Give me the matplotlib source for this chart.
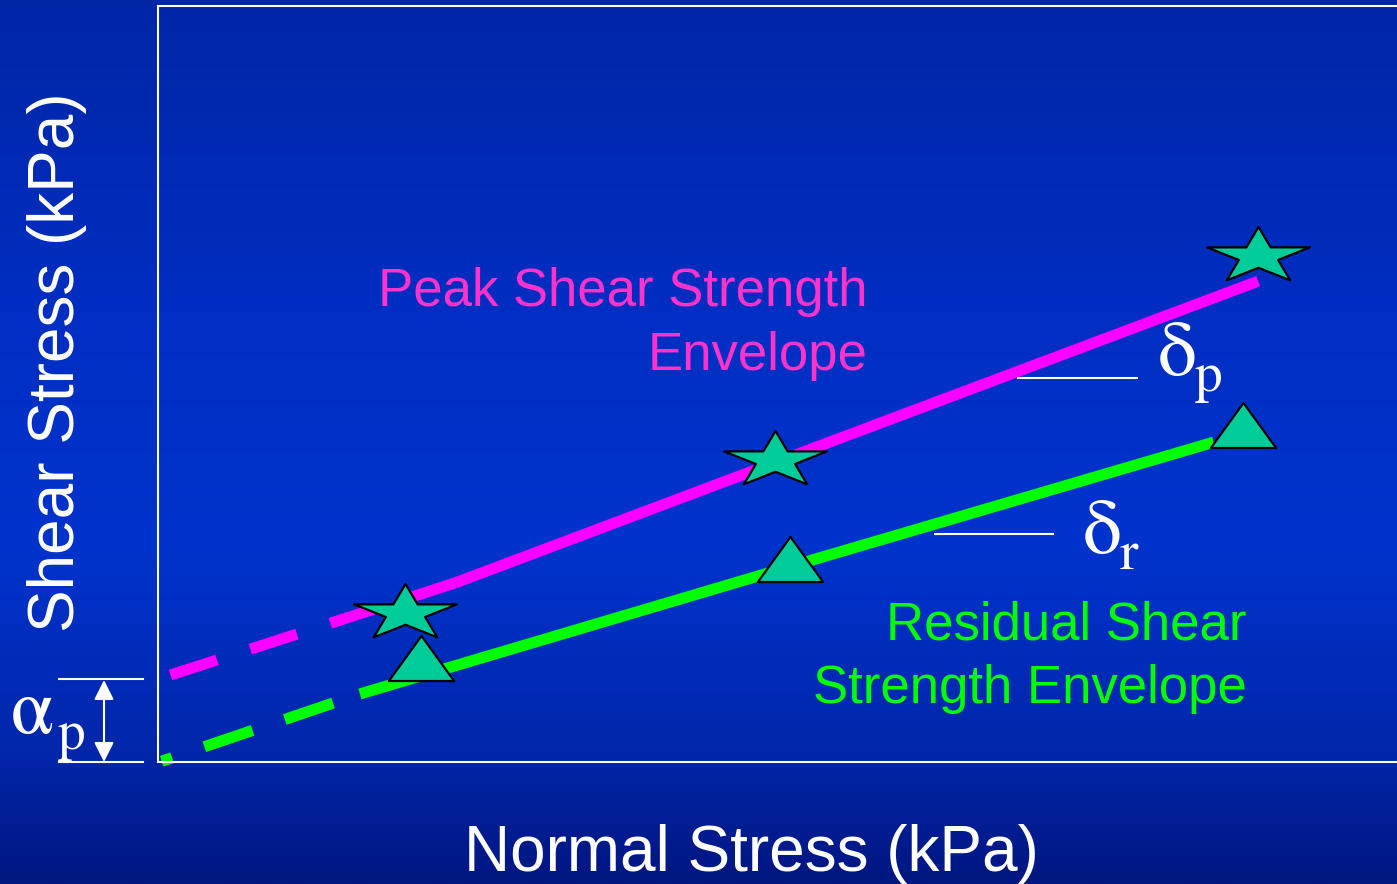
import numpy as np
import matplotlib
matplotlib.use("Agg")
import matplotlib.pyplot as plt
from matplotlib.path import Path
from matplotlib.lines import Line2D

plt.rcParams['font.family'] = ['Liberation Sans', 'DejaVu Sans']
plt.rcParams['lines.scale_dashes'] = False

W, H = 1397, 884

# Datos (unidades arbitrarias, sin escala en los ejes)
peak_dash_x = [1.0, 24.0]
peak_dash_y = [11.5, 23.7]
peak_solid_x = [24.0, 49.8, 88.8]
peak_solid_y = [23.7, 39.6, 63.6]

resid_dash_x = [0.3, 16.3]
resid_dash_y = [0.1, 9.0]
resid_solid_x = [16.3, 50.9, 85.2]
resid_solid_y = [9.0, 25.8, 42.3]

peak_pts_x = [19.9, 49.8, 88.8]
peak_pts_y = [19.7, 40.0, 66.9]
resid_pts_x = [21.2, 51.0, 87.6]
resid_pts_y = [13.7, 26.8, 44.6]

MAGENTA = '#FF00FF'
GREEN = '#00FF00'
MARKER_FILL = '#00CC99'

# Marcadores achatados (estrella y triángulo)
ang = np.pi / 2 + np.arange(10) * np.pi / 5
rad = np.where(np.arange(10) % 2 == 0, 1.0, 0.382)
star_verts = np.column_stack([rad * np.cos(ang), rad * np.sin(ang) * 0.546])
star_verts = np.vstack([star_verts, star_verts[:1]])
star_marker = Path(star_verts, closed=True)
tri_marker = Path([(0, 0.69), (-1, -0.69), (1, -0.69), (0, 0.69)], closed=True)

fig = plt.figure(figsize=(W / 100, H / 100), dpi=100)

# Fondo degradado azul
bg = fig.add_axes([0, 0, 1, 1])
stops_y = [0.0, 0.35, 0.62, 0.85, 1.0]
stops_c = np.array([[0, 38, 166], [0, 46, 194], [0, 51, 205], [0, 38, 170], [0, 22, 128]]) / 255
t = np.linspace(0, 1, 400)
grad = np.column_stack([np.interp(t, stops_y, stops_c[:, k]) for k in range(3)])
bg.imshow(grad[:, None, :], aspect='auto', extent=[0, 1, 0, 1], interpolation='bilinear')
bg.set_axis_off()

ax = fig.add_axes([158 / W, 122 / H, 1239 / W, 756 / H])
ax.set_facecolor('none')
ax.set_xlim(0, 100)
ax.set_ylim(0, 100)
ax.set_xticks([])
ax.set_yticks([])
for s in ['left', 'top', 'bottom']:
    ax.spines[s].set_color('white')
    ax.spines[s].set_linewidth(1.5)
ax.spines['right'].set_visible(False)

# Envolventes
ax.plot(peak_dash_x, peak_dash_y, color=MAGENTA, lw=8, linestyle=(0, (35.3, 25.2)), clip_on=False)
ax.plot(peak_solid_x, peak_solid_y, color=MAGENTA, lw=8, solid_capstyle='butt')
ax.plot(resid_dash_x, resid_dash_y, color=GREEN, lw=8, linestyle=(28.8, (36.7, 24.5)), clip_on=False)
ax.plot(resid_solid_x, resid_solid_y, color=GREEN, lw=8, solid_capstyle='butt')

# Puntos de ensayo
ax.plot(peak_pts_x, peak_pts_y, linestyle='none', marker=star_marker, ms=74,
        mfc=MARKER_FILL, mec='black', mew=1.6, zorder=5, clip_on=False)
ax.plot(resid_pts_x, resid_pts_y, linestyle='none', marker=tri_marker, ms=47,
        mfc=MARKER_FILL, mec='black', mew=1.6, zorder=5, clip_on=False)

# Textos
fig.text(868 / W, 1 - 306 / H, 'Peak Shear Strength', color='#FF33CC', fontsize=38,
         ha='right', va='baseline')
fig.text(868 / W, 1 - 370 / H, 'Envelope', color='#FF33CC', fontsize=38,
         ha='right', va='baseline')
fig.text(1247 / W, 1 - 640 / H, 'Residual Shear', color=GREEN, fontsize=38,
         ha='right', va='baseline')
fig.text(1247 / W, 1 - 703 / H, 'Strength Envelope', color=GREEN, fontsize=38,
         ha='right', va='baseline')

fig.text(751 / W, 1 - 871 / H, 'Normal Stress (kPa)', color='white', fontsize=46,
         ha='center', va='baseline')
fig.text(57 / W, 1 - 362 / H, 'Shear Stress (kPa)', color='white', fontsize=46,
         ha='center', va='center', rotation=90)

# Ángulos de fricción
greek = 'STIXGeneral'
fig.text(1158 / W, 1 - 375 / H, 'δ', color='white', fontsize=56, family=greek, va='baseline')
fig.text(1195 / W, 1 - 391 / H, 'p', color='white', fontsize=40, family=greek, va='baseline')
fig.text(1083 / W, 1 - 553 / H, 'δ', color='white', fontsize=56, family=greek, va='baseline')
fig.text(1120 / W, 1 - 569 / H, 'r', color='white', fontsize=40, family=greek, va='baseline')
fig.add_artist(Line2D([1018 / W, 1137 / W], [1 - 378 / H] * 2, color='white', lw=1.5))
fig.add_artist(Line2D([935 / W, 1053 / W], [1 - 534 / H] * 2, color='white', lw=1.5))

# Cohesión aparente
fig.text(11 / W, 1 - 733 / H, 'α', color='white', fontsize=56, family=greek, va='baseline')
fig.text(58 / W, 1 - 749 / H, 'p', color='white', fontsize=40, family=greek, va='baseline')
fig.add_artist(Line2D([59 / W, 143 / W], [1 - 679 / H] * 2, color='white', lw=1.5))
fig.add_artist(Line2D([59 / W, 143 / W], [1 - 762 / H] * 2, color='white', lw=1.5))
ax.annotate('', xy=(104, H - 680), xytext=(104, H - 762),
            xycoords='figure pixels', textcoords='figure pixels',
            arrowprops=dict(arrowstyle='<|-|>', color='white', lw=1.5,
                            mutation_scale=30, shrinkA=0, shrinkB=0))

fig.savefig('out.png', dpi=100)
